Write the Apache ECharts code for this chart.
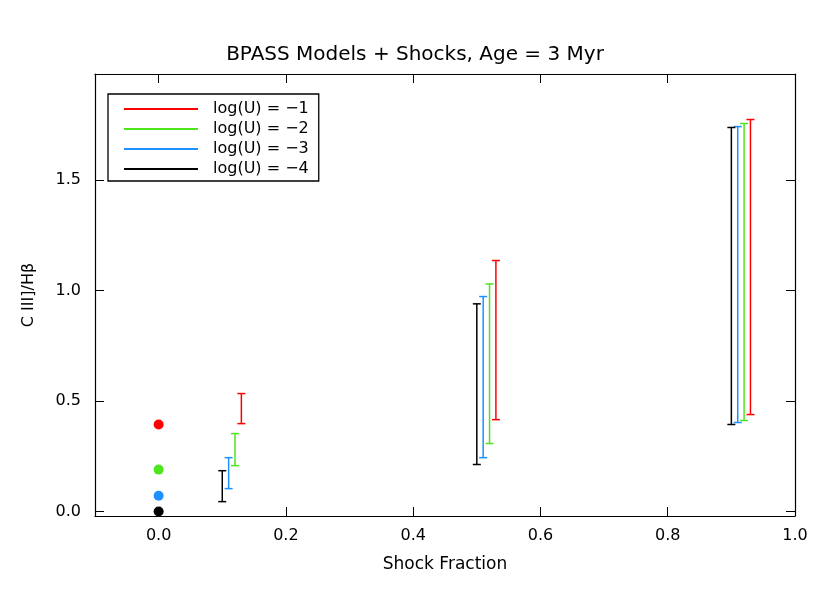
<!DOCTYPE html><html><head><meta charset="utf-8"><script src="https://cdn.jsdelivr.net/npm/echarts@6/dist/echarts.min.js"></script></head><body style="margin:0;background:#fff"><div id="c" style="width:830px;height:593px"></div><script>
const names=['log(U) = −1','log(U) = −2','log(U) = −3','log(U) = −4'];
const colors=['#ff0000','#4ee51e','#1e90ff','#000000'];
const pointY=[0.394,0.19,0.072,0.0];
const barX=[[0.13,0.53,0.93],[0.12,0.52,0.92],[0.11,0.51,0.91],[0.10,0.50,0.90]];
const barLow=[[0.398,0.416,0.439],[0.208,0.308,0.412],[0.104,0.244,0.403],[0.045,0.213,0.394]];
const barHigh=[[0.534,1.136,1.774],[0.353,1.03,1.756],[0.244,0.973,1.742],[0.185,0.94,1.738]];
const xLabels=[0,0.2,0.4,0.6,0.8,1.0];
const yLabels=[0,0.5,1.0,1.5];
const font='DejaVu Sans';
const series=[];
names.forEach((n,i)=>{
 series.push({name:n,type:'custom',data:barX[i].map((x,j)=>[x,barLow[i][j],barHigh[i][j]]),
  renderItem:(p,api)=>{const a=api.coord([api.value(0),api.value(1)]),b=api.coord([api.value(0),api.value(2)]);const w=4;
   const st={stroke:colors[i],lineWidth:1.5,opacity:1};
   return {type:'group',children:[{type:'line',shape:{x1:a[0],y1:a[1],x2:b[0],y2:b[1]},style:st},
    {type:'line',shape:{x1:a[0]-w,y1:a[1],x2:a[0]+w,y2:a[1]},style:st},
    {type:'line',shape:{x1:b[0]-w,y1:b[1],x2:b[0]+w,y2:b[1]},style:st}]};},
  itemStyle:{color:colors[i],opacity:1},z:3});
 series.push({type:'scatter',data:[[0,pointY[i]]],symbolSize:10,itemStyle:{color:colors[i],opacity:1},z:4});
});
const ax={axisLine:{onZero:false,lineStyle:{color:'#000',width:1.2}},axisTick:{inside:true,length:9,lineStyle:{color:'#000'}},splitLine:{show:false},axisLabel:{color:'#000',fontFamily:font,fontSize:16}};
const c=echarts.init(document.getElementById('c'));
c.setOption({animation:false,
 title:{text:'BPASS Models + Shocks, Age = 3 Myr',left:'center',top:40,textStyle:{fontFamily:font,fontWeight:'normal',fontSize:20,color:'#000'}},
 legend:{data:names.map((n,i)=>({name:n,icon:'rect',itemStyle:{color:colors[i],opacity:1}})),orient:'vertical',left:108,top:94,itemWidth:74,itemHeight:2,itemGap:4,padding:[7,10,4,16],borderColor:'#000',borderWidth:1.3,textStyle:{fontFamily:font,fontSize:16,color:'#000',padding:[0,0,0,10]}},
 grid:{left:95,right:35,top:74,bottom:77},
 xAxis:[{...ax,type:'value',min:-0.1,max:1.0,name:'Shock Fraction',nameLocation:'middle',nameGap:40,nameTextStyle:{fontFamily:font,fontSize:17,color:'#000'},
   axisLabel:{...ax.axisLabel,customValues:xLabels,formatter:v=>v.toFixed(1),margin:12},axisTick:{...ax.axisTick,customValues:xLabels}},
  {...ax,type:'value',position:'top',min:-0.1,max:1.0,axisLabel:{show:false},axisTick:{...ax.axisTick,customValues:xLabels}}],
 yAxis:[{...ax,type:'value',min:-0.02,max:1.98,name:'C III]/Hβ',nameLocation:'middle',nameGap:58,nameTextStyle:{fontFamily:font,fontSize:16,color:'#000'},
   axisLabel:{...ax.axisLabel,customValues:yLabels,formatter:v=>v.toFixed(1),margin:14},axisTick:{...ax.axisTick,customValues:yLabels}},
  {...ax,type:'value',position:'right',min:-0.02,max:1.98,axisLabel:{show:false},axisTick:{...ax.axisTick,customValues:yLabels}}],
 series});
</script></body></html>
